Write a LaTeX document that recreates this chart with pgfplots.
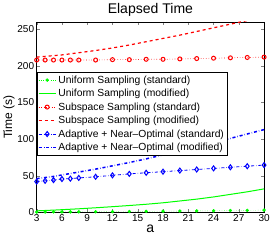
\documentclass[border=0pt]{standalone}
\usepackage{pgfplots}
\pgfplotsset{compat=1.18}
\usepackage{fontspec}
\setmainfont{Liberation Sans}
\begin{document}
\begin{tikzpicture}
\begin{axis}[
  scale only axis,
  width=227pt, height=190pt,
  xmin=3, xmax=30, ymin=0, ymax=260,
  xtick={3,6,9,12,15,18,21,24,27,30},
  ytick={0,50,100,150,200,250},
  tick align=inside,
  tick pos=both,
  major tick length=3pt,
  /pgf/number format/assume math mode=true,
  tick label style={font=\fontsize{10}{11}\selectfont},
  xticklabel style={yshift=1pt},
  yticklabel style={xshift=1pt},
  title={Elapsed Time},
  title style={font=\fontsize{14}{15}\selectfont, yshift=-4pt},
  xlabel={a},
  xlabel style={font=\fontsize{14}{15}\selectfont, yshift=4pt},
  ylabel={Time (s)},
  ylabel style={font=\fontsize{12}{13}\selectfont, yshift=-4pt},
  legend style={font=\fontsize{10.3}{11}\selectfont, at={(0,0.735)}, anchor=north west, draw=black, inner sep=1pt, row sep=0.5pt},
  legend cell align=left,
]
\addplot[green, dotted, mark=*, mark size=1.5pt, mark options={solid}] coordinates {
(3,0.3)(4,0.4)(5,0.5)(6,0.5)(7,0.6)(8,0.7)(10,0.8)(12,1)(14,1.1)(16,1.3)(18,1.5)(20,1.7)(22,1.9)(24,2.1)(26,2.4)(28,2.7)(30,3)};
\addlegendentry{Uniform Sampling (standard)}
\addplot[green, line width=1pt] coordinates {
(3,2)(4,2.5)(5,3)(6,3.6)(7,4.2)(8,4.8)(10,6.2)(12,7.7)(14,9.3)(16,11)(18,13)(20,15.5)(22,18)(24,21)(26,24.5)(28,28)(30,32)};
\addlegendentry{Uniform Sampling (modified)}
\addplot[red, dotted, mark=o, mark size=2pt, line width=0.6pt, mark options={solid, line width=1pt}] coordinates {
(3,208)(4,208)(5,208)(6,208)(7,208)(8,208)(10,208)(12,208.5)(14,208.5)(16,209)(18,209)(20,209.5)(22,210)(24,210.5)(26,211)(28,211.5)(30,212)};
\addlegendentry{Subspace Sampling (standard)}
\addplot[red, dashed, line width=1.2pt] coordinates {
(3,212)(4,213)(5,214)(6,215)(7,216.5)(8,218)(10,221)(12,224.5)(14,228.5)(16,233)(18,237.5)(20,242)(22,247)(24,252)(26,257)(28,262)(30,267)};
\addlegendentry{Subspace Sampling (modified)}
\addplot[blue, dash dot, line width=0.8pt, mark=diamond, mark size=2.5pt, mark options={solid, fill=white, line width=1pt}] coordinates {
(3,42)(4,43)(5,44)(6,45.5)(7,46)(8,47)(10,48.5)(12,50.5)(14,52.5)(16,54)(18,55.5)(20,57)(22,58.5)(24,60)(26,61.5)(28,63)(30,64.5)};
\addlegendentry{Adaptive + Near--Optimal (standard)}
\addplot[blue, dash dot, line width=1.5pt] coordinates {
(3,46)(4,47.5)(5,49)(6,51)(7,53)(8,55)(10,59)(12,63.5)(14,68)(16,73)(18,78.5)(20,84)(22,89.5)(24,95)(26,101)(28,107)(30,113)};
\addlegendentry{Adaptive + Near--Optimal (modified)}
\end{axis}
\end{tikzpicture}
\end{document}
